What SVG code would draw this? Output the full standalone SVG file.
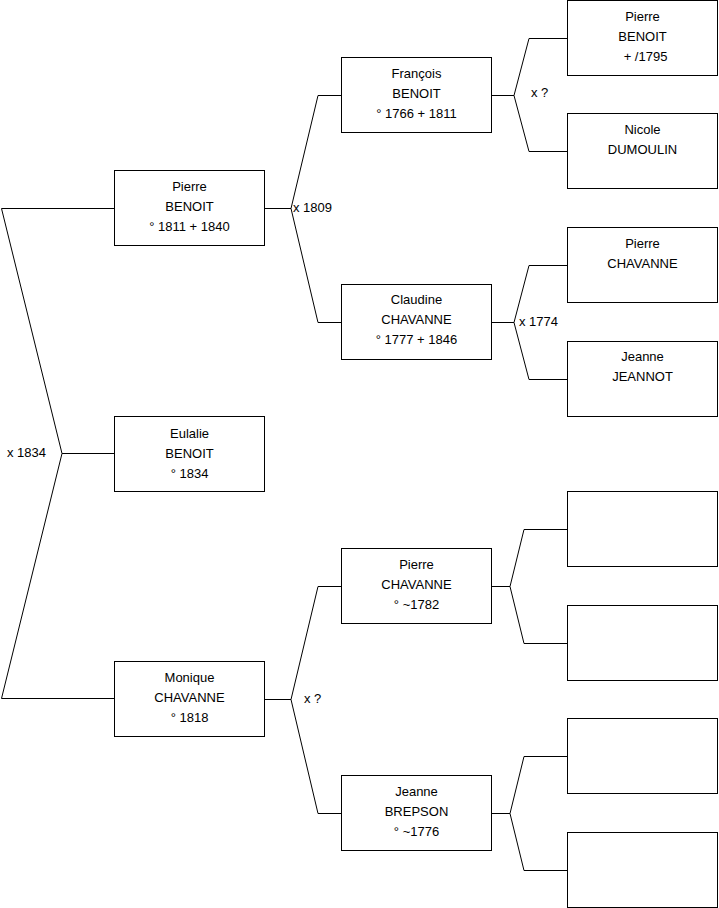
<svg xmlns="http://www.w3.org/2000/svg" width="719" height="908" viewBox="0 0 719 908">
<style>
.box{fill:#fff;stroke:#000;stroke-width:1}
.t{font-family:"Liberation Sans",Arial,sans-serif;font-size:13px;fill:#000;text-anchor:middle}
.l{font-family:"Liberation Sans",Arial,sans-serif;font-size:13px;fill:#000}
.c{fill:none;stroke:#000;stroke-width:1}
</style>
<rect width="719" height="908" fill="#fff"/>
<g id="connectors">
<polyline class="c" points="114,208.5 1.5,208.5 62,453.5 1.5,698.5 114,698.5"/>
<line class="c" x1="62" y1="453.5" x2="114" y2="453.5"/>
<polyline class="c" points="341,95.5 318,95.5 291,208.5 318,322.5 341,322.5"/>
<line class="c" x1="265" y1="208.5" x2="291" y2="208.5"/>
<polyline class="c" points="567,38.5 529,38.5 514,95.5 529,151.5 567,151.5"/>
<line class="c" x1="492" y1="95.5" x2="514" y2="95.5"/>
<polyline class="c" points="567,265.5 529,265.5 514,322.5 529,379.5 567,379.5"/>
<line class="c" x1="492" y1="322.5" x2="514" y2="322.5"/>
<polyline class="c" points="341,586.5 318,586.5 291,699.5 318,813.5 341,813.5"/>
<line class="c" x1="265" y1="699.5" x2="291" y2="699.5"/>
<polyline class="c" points="567,529.5 524,529.5 510,586.5 524,643.5 567,643.5"/>
<line class="c" x1="492" y1="586.5" x2="510" y2="586.5"/>
<polyline class="c" points="567,756.5 524,756.5 510,813.5 524,870.5 567,870.5"/>
<line class="c" x1="492" y1="813.5" x2="510" y2="813.5"/>
<text class="l" x="7" y="457">x 1834</text>
<text class="l" x="293" y="212">x 1809</text>
<text class="l" x="531" y="97">x ?</text>
<text class="l" x="519" y="326">x 1774</text>
<text class="l" x="304" y="703">x ?</text>
</g>
<g id="n-pierre-benoit-1811">
<rect class="box" x="114.5" y="170.5" width="150" height="75"/>
<text class="t" x="189.5" y="191">Pierre</text>
<text class="t" x="189.5" y="211">BENOIT</text>
<text class="t" x="189.5" y="231">° 1811 + 1840</text>
</g>
<g id="n-eulalie-benoit">
<rect class="box" x="114.5" y="416.5" width="150" height="75"/>
<text class="t" x="189.5" y="438">Eulalie</text>
<text class="t" x="189.5" y="458">BENOIT</text>
<text class="t" x="189.5" y="478">° 1834</text>
</g>
<g id="n-monique-chavanne">
<rect class="box" x="114.5" y="661.5" width="150" height="75"/>
<text class="t" x="189.5" y="682">Monique</text>
<text class="t" x="189.5" y="702">CHAVANNE</text>
<text class="t" x="189.5" y="722">° 1818</text>
</g>
<g id="n-francois-benoit">
<rect class="box" x="341.5" y="57.5" width="150" height="75"/>
<text class="t" x="416.5" y="78">François</text>
<text class="t" x="416.5" y="98">BENOIT</text>
<text class="t" x="416.5" y="118">° 1766 + 1811</text>
</g>
<g id="n-claudine-chavanne">
<rect class="box" x="341.5" y="284.5" width="150" height="75"/>
<text class="t" x="416.5" y="304">Claudine</text>
<text class="t" x="416.5" y="324">CHAVANNE</text>
<text class="t" x="416.5" y="344">° 1777 + 1846</text>
</g>
<g id="n-pierre-chavanne-1782">
<rect class="box" x="341.5" y="548.5" width="150" height="75"/>
<text class="t" x="416.5" y="569">Pierre</text>
<text class="t" x="416.5" y="589">CHAVANNE</text>
<text class="t" x="416.5" y="609">° ~1782</text>
</g>
<g id="n-jeanne-brepson">
<rect class="box" x="341.5" y="775.5" width="150" height="75"/>
<text class="t" x="416.5" y="796">Jeanne</text>
<text class="t" x="416.5" y="816">BREPSON</text>
<text class="t" x="416.5" y="836">° ~1776</text>
</g>
<g id="n-pierre-benoit-1795">
<rect class="box" x="567.5" y="0.5" width="150" height="75"/>
<text class="t" x="642.5" y="21">Pierre</text>
<text class="t" x="642.5" y="41">BENOIT</text>
<text class="t" x="645.5" y="61">+ /1795</text>
</g>
<g id="n-nicole-dumoulin">
<rect class="box" x="567.5" y="113.5" width="150" height="75"/>
<text class="t" x="642.5" y="134">Nicole</text>
<text class="t" x="642.5" y="154">DUMOULIN</text>
</g>
<g id="n-pierre-chavanne">
<rect class="box" x="567.5" y="227.5" width="150" height="75"/>
<text class="t" x="642.5" y="248">Pierre</text>
<text class="t" x="642.5" y="268">CHAVANNE</text>
</g>
<g id="n-jeanne-jeannot">
<rect class="box" x="567.5" y="341.5" width="150" height="75"/>
<text class="t" x="642.5" y="361">Jeanne</text>
<text class="t" x="642.5" y="381">JEANNOT</text>
</g>
<g id="n-empty-1"><rect class="box" x="567.5" y="491.5" width="150" height="75"/></g>
<g id="n-empty-2"><rect class="box" x="567.5" y="605.5" width="150" height="75"/></g>
<g id="n-empty-3"><rect class="box" x="567.5" y="718.5" width="150" height="75"/></g>
<g id="n-empty-4"><rect class="box" x="567.5" y="832.5" width="150" height="75"/></g>
</svg>
